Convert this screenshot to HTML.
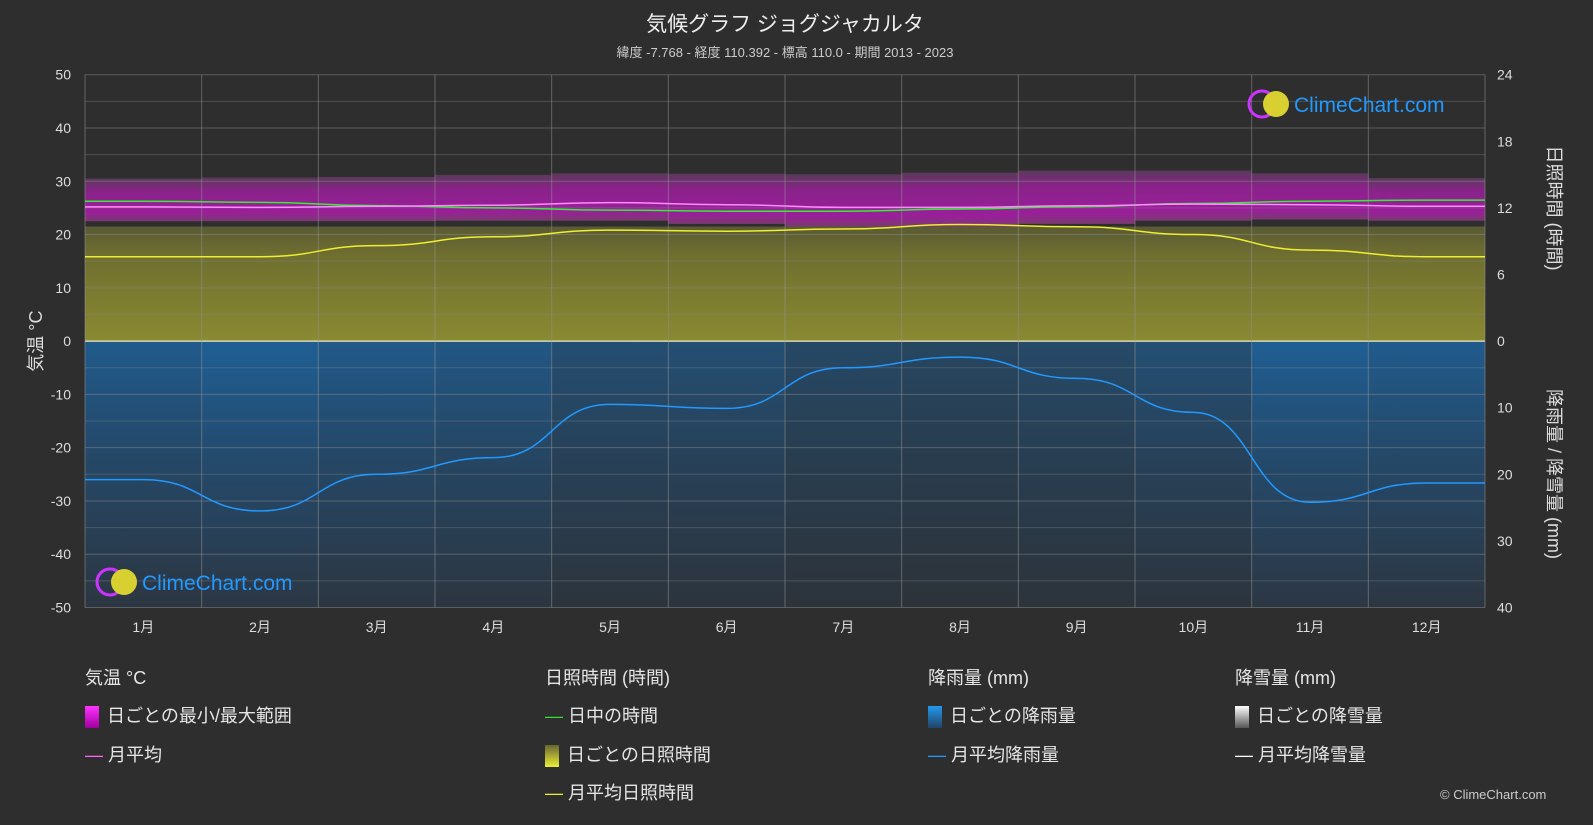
<!DOCTYPE html>
<html><head><meta charset="utf-8">
<style>
body{margin:0;background:#2e2e2e;font-family:"Liberation Sans","Noto Sans CJK JP",sans-serif;color:#e0e0e0;}
#wrap{position:relative;width:1593px;height:825px;overflow:hidden;}
.t{position:absolute;white-space:nowrap;}
.lg{position:absolute;font-size:18px;color:#e6e6e6;white-space:nowrap;}
</style></head>
<body><div id="wrap">
<div class="t" style="left:0;width:1570px;text-align:center;top:8px;font-size:21px;color:#eee">気候グラフ ジョグジャカルタ</div>
<div class="t" style="left:0;width:1570px;text-align:center;top:42px;font-size:13px;color:#ccc">緯度 -7.768 - 経度 110.392 - 標高 110.0 - 期間 2013 - 2023</div>
<svg id="ch" width="1593" height="825" style="position:absolute;left:0;top:0"></svg>

<div class="lg" style="left:85px;top:664px">気温 °C</div>
<div class="lg" style="left:85px;top:702px"><span style="display:inline-block;width:14px;height:22px;background:linear-gradient(#ff33ff,#a000a0);vertical-align:middle;margin-right:8px"></span>日ごとの最小/最大範囲</div>
<div class="lg" style="left:85px;top:741px"><span style="color:#ff66ff">—</span> 月平均</div>
<div class="lg" style="left:545px;top:664px">日照時間 (時間)</div>
<div class="lg" style="left:545px;top:702px"><span style="color:#33dd33">—</span> 日中の時間</div>
<div class="lg" style="left:545px;top:741px"><span style="display:inline-block;width:14px;height:22px;background:linear-gradient(#666633,#eeee33);vertical-align:middle;margin-right:8px"></span>日ごとの日照時間</div>
<div class="lg" style="left:545px;top:779px"><span style="color:#eeee33">—</span> 月平均日照時間</div>
<div class="lg" style="left:928px;top:664px">降雨量 (mm)</div>
<div class="lg" style="left:928px;top:702px"><span style="display:inline-block;width:14px;height:22px;background:linear-gradient(#2299ee,#224466);vertical-align:middle;margin-right:8px"></span>日ごとの降雨量</div>
<div class="lg" style="left:928px;top:741px"><span style="color:#2299ff">—</span> 月平均降雨量</div>
<div class="lg" style="left:1235px;top:664px">降雪量 (mm)</div>
<div class="lg" style="left:1235px;top:702px"><span style="display:inline-block;width:14px;height:22px;background:linear-gradient(#fff,#555);vertical-align:middle;margin-right:8px"></span>日ごとの降雪量</div>
<div class="lg" style="left:1235px;top:741px"><span style="color:#fff">—</span> 月平均降雪量</div>
<div class="t" style="left:1440px;top:787px;font-size:13px;color:#ccc">© ClimeChart.com</div>
</div>
<script>
const months=["1月","2月","3月","4月","5月","6月","7月","8月","9月","10月","11月","12月"];
const tempMean=[25.2,25.1,25.3,25.5,26.0,25.6,25.1,25.1,25.4,25.7,25.6,25.3];
const tempMin=[22.5,22.5,22.5,22.6,22.6,22,21.5,21.5,22,22.6,22.8,22.6];
const tempMax=[30.5,30.7,30.8,31.2,31.5,31.4,31.3,31.6,32,32,31.5,30.6];
const daylight=[12.6,12.5,12.2,12.0,11.8,11.7,11.7,11.9,12.1,12.4,12.6,12.7];
const sunshine=[7.6,7.6,8.6,9.4,10.0,9.9,10.1,10.5,10.3,9.6,8.2,7.6];
const rain=[20.8,25.5,20.0,17.5,9.5,10.1,4.0,2.4,5.6,10.7,24.2,21.3];
const tempTicks=[50,40,30,20,10,0,-10,-20,-30,-40,-50];
const sunTicks=[24,18,12,6,0];
const rainTicks=[0,10,20,30,40];

const L=85,R=1485,T=74.7,B=607.5;
const yT=v=>T+(50-v)*(B-T)/100;
const zero=yT(0);
const yS=h=>zero-h*(zero-T)/24;
const yR=r=>zero+r*(B-zero)/40;
const mw=(R-L)/12;
const xM=i=>L+(i+0.5)*mw;
const svg=document.getElementById('ch');
const NS="http://www.w3.org/2000/svg";
function mk(tag,attrs,name,parent){const e=document.createElementNS(NS,tag);for(const k in attrs)e.setAttribute(k,attrs[k]);


(parent||svg).appendChild(e);return e;}

const defs=mk('defs',{},'defs');
defs.innerHTML='<linearGradient id="gR" x1="0" y1="0" x2="0" y2="1"><stop offset="0" stop-color="#1f5f95"/><stop offset="0.45" stop-color="#244a6c"/><stop offset="1" stop-color="#2c3744"/></linearGradient><linearGradient id="gS" x1="0" y1="0" x2="0" y2="1"><stop offset="0" stop-color="#5a5a34"/><stop offset="0.25" stop-color="#6f6f30"/><stop offset="1" stop-color="#8a8a32"/></linearGradient><linearGradient id="gT" x1="0" y1="0" x2="0" y2="1"><stop offset="0" stop-color="#5a3a5a"/><stop offset="0.3" stop-color="#8a228a"/><stop offset="0.8" stop-color="#9a1f9a"/><stop offset="1" stop-color="#7a3a70"/></linearGradient>';

months.forEach((m,i)=>{
  mk('rect',{x:L+i*mw,y:yT(21.5),width:mw,height:zero-yT(21.5),fill:'url(#gS)'},'sunshine-area-'+(i+1));
  mk('rect',{x:L+i*mw,y:zero,width:mw,height:B-zero,fill:'url(#gR)',opacity:0.45+rain[i]/45},'rain-area-'+(i+1));
  mk('rect',{x:L+i*mw,y:yT(tempMax[i]),width:mw,height:yT(tempMin[i])-yT(tempMax[i]),fill:'url(#gT)'},'temp-range-'+(i+1));
});
// grid
for(let v=45;v>=-45;v-=5){if(v%10==0)continue;mk('line',{x1:L,x2:R,y1:yT(v),y2:yT(v),stroke:'#8a8a8a','stroke-opacity':0.35},'grid-h-minor');}
tempTicks.forEach(v=>{mk('line',{x1:L,x2:R,y1:yT(v),y2:yT(v),stroke:v==0?'#d8d8b0':'#8a8a8a','stroke-opacity':v==0?1:0.5,'stroke-width':v==0?1.5:1},'grid-h');
 const t=mk('text',{x:L-14,y:yT(v)+5,'text-anchor':'end','font-size':14,fill:'#ddd'},'y-tick-temp');t.textContent=v;});
for(let i=0;i<=12;i++)mk('line',{x1:L+i*mw,x2:L+i*mw,y1:T,y2:B,stroke:'#9a9a9a','stroke-opacity':0.5},'grid-v');
sunTicks.forEach(v=>{const t=mk('text',{x:R+12,y:yS(v)+5,'font-size':14,fill:'#ddd'},'y-tick-sun');t.textContent=v;});
rainTicks.forEach(v=>{if(v==0)return;const t=mk('text',{x:R+12,y:yR(v)+5,'font-size':14,fill:'#ddd'},'y-tick-rain');t.textContent=v;});
months.forEach((m,i)=>{const t=mk('text',{x:xM(i),y:632,'text-anchor':'middle','font-size':14,fill:'#ddd'},'x-tick-month');t.textContent=m;});
let t=mk('text',{x:42,y:zero,'font-size':18,fill:'#ddd','text-anchor':'middle',transform:'rotate(-90 42 '+zero+')'},'y-axis-title-left');t.textContent='気温 °C';
t=mk('text',{x:1548,y:208,'font-size':18,fill:'#ddd','text-anchor':'middle',transform:'rotate(90 1548 208)'},'y-axis-title-sun');t.textContent='日照時間 (時間)';
t=mk('text',{x:1548,y:474,'font-size':18,fill:'#ddd','text-anchor':'middle',transform:'rotate(90 1548 474)'},'y-axis-title-rain');t.textContent='降雨量 / 降雪量 (mm)';

function curve(vals,yf){let d='M'+L+','+yf(vals[0])+' L'+xM(0)+','+yf(vals[0]);
 for(let i=1;i<vals.length;i++){const x0=xM(i-1),x1=xM(i),xm=(x0+x1)/2;d+=' C'+xm+','+yf(vals[i-1])+' '+xm+','+yf(vals[i])+' '+x1+','+yf(vals[i]);}
 return d+' L'+R+','+yf(vals[vals.length-1]);}
mk('path',{d:curve(daylight,yS),fill:'none',stroke:'#33ee33','stroke-width':1.5},'daylight-line');
mk('path',{d:curve(tempMean,yT),fill:'none',stroke:'#ff88ff','stroke-width':1.5},'temp-mean-line');
mk('path',{d:curve(sunshine,yS),fill:'none',stroke:'#eeee33','stroke-width':1.5},'sunshine-mean-line');
mk('path',{d:curve(rain,yR),fill:'none',stroke:'#2299ff','stroke-width':1.5},'rain-mean-line');

function logo(x,y,name){const g=mk('g',{},name);
 mk('circle',{cx:x,cy:y,r:13,fill:'none',stroke:'#cc33ff','stroke-width':3},name+'-ring',g);
 mk('circle',{cx:x+14,cy:y,r:13,fill:'#d8d030'},name+'-sun',g);
 const tt=mk('text',{x:x+32,y:y+8,'font-size':21,fill:'#2299ff'},name+'-text',g);tt.textContent='ClimeChart.com';}
logo(1262,104,'logo-top');logo(110,582,'logo-bottom');
</script>
</body></html>
